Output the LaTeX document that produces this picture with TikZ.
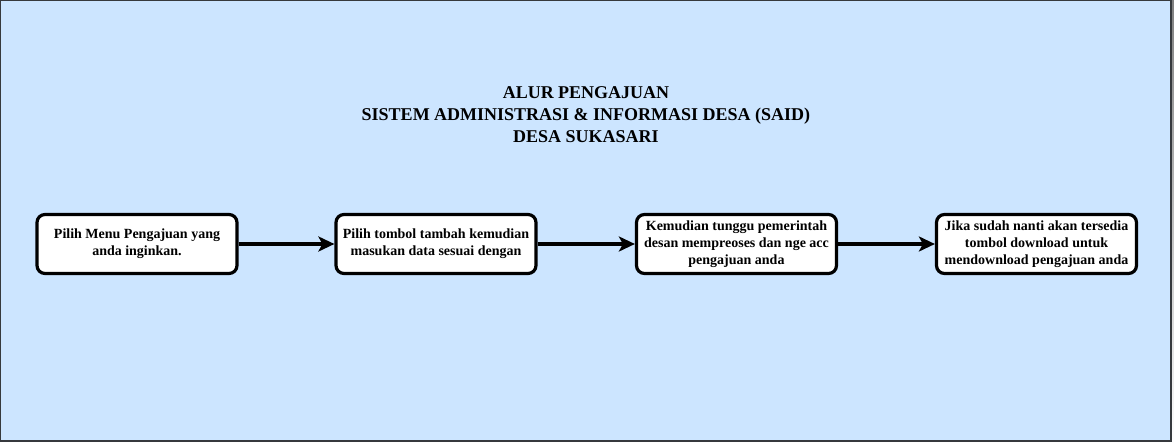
\documentclass[tikz,border=0pt]{standalone}
\usepackage{fontspec}
\setmainfont{Liberation Serif}
\usetikzlibrary{arrows.meta}
\definecolor{bgblue}{HTML}{CCE5FF}
\definecolor{frame}{HTML}{36393D}
\definecolor{shade}{HTML}{B8B8B8}
\tikzset{
  stepbox/.style={draw=black,line width=3.2pt,fill=white,rounded corners=8pt,
    minimum width=200pt,minimum height=59pt,align=center,
    font=\bfseries\fontsize{14}{17}\selectfont},
  flow/.style={line width=3.5pt,-{Stealth[length=16pt,width=15pt,inset=4pt]}},
  title/.style={align=center,font=\bfseries\fontsize{18}{22}\selectfont}
}
\begin{document}
\begin{tikzpicture}[x=1pt,y=-1pt]
\def \W {1174};
\def \H {444};
% Hintergrund
\fill[shade] (0,0) rectangle (\W,\H);
\useasboundingbox (0,0) rectangle (\W,\H);
\draw[frame,fill=bgblue,line width=1.2pt] (0.6,0.6) rectangle (1171,441);
% Titel
\node[title] (judul) at (586,115) {ALUR PENGAJUAN\\SISTEM ADMINISTRASI \& INFORMASI DESA (SAID)\\DESA SUKASARI};
% Schritte
\node[stepbox] (s1) at (137,244) {Pilih Menu Pengajuan yang\\anda inginkan.};
\node[stepbox] (s2) at (436,244) {Pilih tombol tambah kemudian\\masukan data sesuai dengan};
\node[stepbox] (s3) at (736.5,244) {Kemudian tunggu pemerintah\\desan mempreoses dan nge acc\\pengajuan anda};
\node[stepbox] (s4) at (1036.5,244) {Jika sudah nanti akan tersedia\\tombol download untuk\\mendownload pengajuan anda};
% Pfeile
\foreach \a/\b in {s1/s2,s2/s3,s3/s4}
\draw[flow] (\a) -- (\b);
\end{tikzpicture}
\end{document}
